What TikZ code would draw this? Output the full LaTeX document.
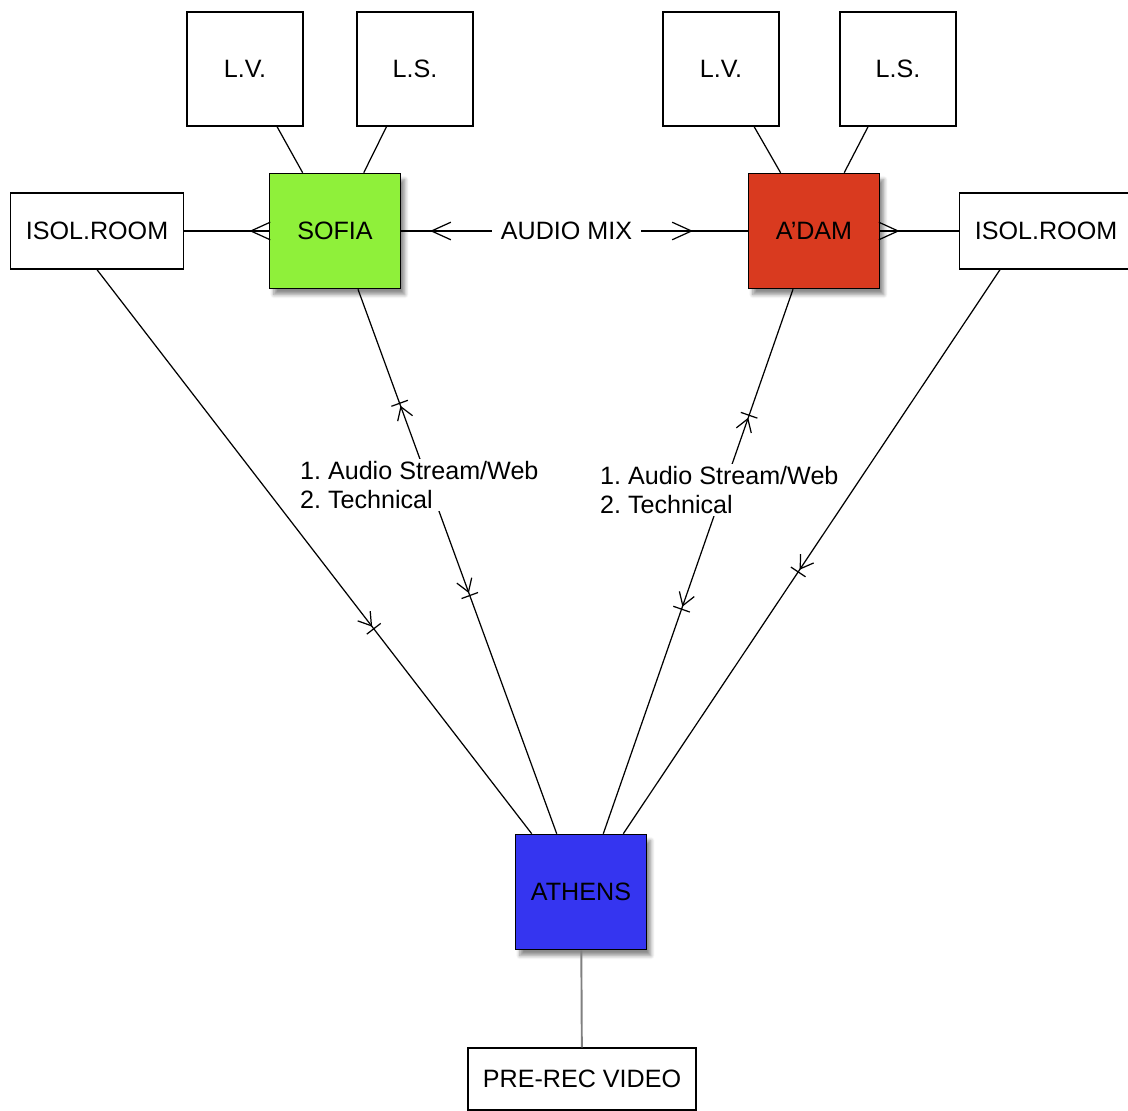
\documentclass[tikz,border=0pt]{standalone}
\usepackage{fontspec}
\setmainfont{Liberation Sans}
\usetikzlibrary{positioning, arrows.meta, shadows.blur, decorations.markings}

\definecolor{sofiagreen}{RGB}{143,240,58}
\definecolor{adamred}{RGB}{217,58,31}
\definecolor{athensblue}{RGB}{53,53,240}

\begin{document}
\begin{tikzpicture}[
  x=0.02cm, y=-0.02cm,
  font=\fontsize{14.3}{17}\selectfont,
  box/.style={rectangle, draw, fill=white, line width=0.8pt, minimum width=2.32cm, minimum height=2.28cm, inner sep=0pt},
  room/.style={rectangle, draw, fill=white, line width=0.8pt, minimum width=3.46cm, minimum height=1.52cm, inner sep=0pt},
  city/.style={rectangle, draw, line width=0.9pt, minimum width=2.62cm, minimum height=2.3cm, inner sep=0pt,
    blur shadow={shadow xshift=2.5pt, shadow yshift=-3.5pt, shadow blur steps=6, shadow opacity=45}},
  link/.style={line width=0.7pt},
  tickto/.style={postaction={decorate, decoration={markings, mark=at position #1 with
    {\arrow{Straight Barb[length=7pt,width=9pt]}\draw (1.5pt,-5pt) -- (1.5pt,5pt);}}}},
  tickback/.style={postaction={decorate, decoration={markings, mark=at position #1 with
    {\arrowreversed{Straight Barb[length=7pt,width=9pt]}\draw (-1.5pt,-5pt) -- (-1.5pt,5pt);}}}},
  crow/.style={postaction={decorate, decoration={markings, mark=at position -11pt with
    {\arrowreversed{Straight Barb[length=11pt,width=10pt]}}}}}
]
\useasboundingbox (0,0) rectangle (1128,1111);

% Sofia side
\node[box] (lvS) at (245,69) {L.V.};
\node[box] (lsS) at (415,69) {L.S.};
\node[city, fill=sofiagreen] (sofia) at (335,231) {SOFIA};
\node[room] (isolS) at (97,231) {ISOL.ROOM};

% Amsterdam side
\node[box] (lvA) at (721,69) {L.V.};
\node[box] (lsA) at (898,69) {L.S.};
\node[city, fill=adamred] (adam) at (814,231) {A'DAM};
\node[room] (isolA) at (1046,231) {ISOL.ROOM};

% Athens
\node[city, fill=athensblue] (athens) at (581,892) {ATHENS};
\node[rectangle, draw, fill=white, line width=0.8pt, minimum width=4.56cm, minimum height=1.24cm] (video) at (582,1079) {PRE-REC VIDEO};

% Top links
\draw[link] (lvS) -- (sofia);
\draw[link] (lsS) -- (sofia);
\draw[link] (lvA) -- (adam);
\draw[link] (lsA) -- (adam);
\draw[link, crow] (isolS) -- (sofia);
\draw[link, crow] (isolA) -- (adam);

% Audio mix
\draw[link, postaction={decorate, decoration={markings,
    mark=at position 0.083 with {\arrowreversed{Straight Barb[length=11pt,width=10pt]}},
    mark=at position 0.842 with {\arrow{Straight Barb[length=11pt,width=10pt]}}}}]
  (sofia) -- node[pos=0.477, fill=white, inner xsep=5pt] (mix) {AUDIO MIX} (adam);

% Links to Athens
\draw[link, tickto=0.633] (isolS.south) -- ([xshift=0.34cm]athens.north west);
\draw[link, tickback=0.214, tickto=0.558] ([xshift=0.46cm]sofia.south) -- ([xshift=0.84cm]athens.north west);
\draw[link, tickback=0.236, tickto=0.583] ([xshift=-0.42cm]adam.south) -- ([xshift=-0.88cm]athens.north east);
\draw[line width=1.1pt, gray] (athens) -- (video);

% Labels
\node[anchor=west, align=left, fill=white, inner sep=1pt] (lblS) at (298,485) {1.\ Audio Stream/Web\\2.\ Technical};
\node[anchor=west, align=left, fill=white, inner sep=1pt] (lblA) at (598,490) {1.\ Audio Stream/Web\\2.\ Technical};

% drawn after the label so it stays whole
\draw[link, tickto=0.532] ([xshift=-0.92cm]isolA.south) -- ([xshift=-0.48cm]athens.north east);

\end{tikzpicture}
\end{document}
